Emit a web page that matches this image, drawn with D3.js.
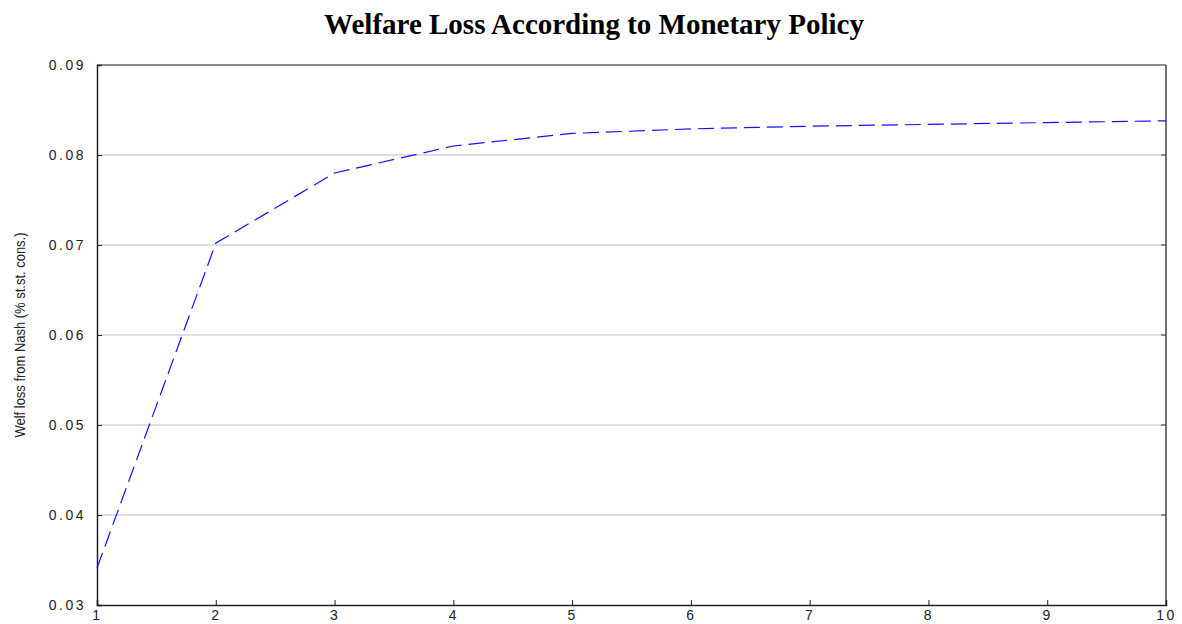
<!DOCTYPE html>
<html>
<head>
<meta charset="utf-8">
<script src="https://cdn.jsdelivr.net/npm/d3@7"></script>
<style>
  body { margin: 0; background: #fff; }
  svg { display: block; }
</style>
</head>
<body>
<div id="chart"></div>
<script>
// values
const policyIndex = [1, 2, 3, 4, 5, 6, 7, 8, 9, 10]
const welfareLoss = [0.0341, 0.0702, 0.0780, 0.0810, 0.0824, 0.0829, 0.0832, 0.0834, 0.0836, 0.0838]
const yTicks = [0.03, 0.04, 0.05, 0.06, 0.07, 0.08, 0.09]
const xTicks = [1, 2, 3, 4, 5, 6, 7, 8, 9, 10]

const width = 1182, height = 624
const margin = {top: 65, right: 16, bottom: 19, left: 97}
const w = width - margin.left - margin.right
const h = height - margin.top - margin.bottom

let svg = d3.select("#chart").append("svg")
  .attr("width", width)
  .attr("height", height)

let g = svg.append("g")
  .attr("transform", "translate(" + margin.left + "," + margin.top + ")")

let x = d3.scaleLinear().domain([1, 10]).range([0, w])
let y = d3.scaleLinear().domain([0.03, 0.09]).range([h, 0])

// horizontal grid
g.append("g").selectAll("line")
  .data(yTicks.filter(d => d > 0.03 && d < 0.09))
  .enter().append("line")
  .attr("x1", 0).attr("x2", w)
  .attr("y1", d => y(d)).attr("y2", d => y(d))
  .attr("stroke", "#d4d4d4")
  .attr("stroke-width", 1.5)

// box: top and right gray
g.append("line").attr("x1", 0).attr("x2", w).attr("y1", 0).attr("y2", 0)
  .attr("stroke", "#666").attr("stroke-width", 1.5)
g.append("line").attr("x1", w).attr("x2", w).attr("y1", 0).attr("y2", h)
  .attr("stroke", "#444").attr("stroke-width", 1.5)

// right inner ticks
g.append("g").selectAll("line")
  .data(yTicks.filter(d => d > 0.03 && d < 0.09))
  .enter().append("line")
  .attr("x1", w - 5).attr("x2", w)
  .attr("y1", d => y(d)).attr("y2", d => y(d))
  .attr("stroke", "#333")

const tickFont = "'Liberation Sans', Arial, sans-serif"

// y axis
let yAxis = g.append("g")
  .call(d3.axisLeft(y).tickValues(yTicks).tickSize(-5).tickPadding(11).tickFormat(d3.format(".2f")))
yAxis.select(".domain").attr("stroke", "#222").attr("stroke-width", 1.5)
yAxis.selectAll(".tick line").attr("stroke", "#222")
yAxis.selectAll("text")
  .attr("font-family", tickFont)
  .attr("font-size", 14)
  .attr("letter-spacing", 2.5)
  .attr("fill", "#222")

// x axis
let xAxis = g.append("g")
  .attr("transform", "translate(0," + h + ")")
  .call(d3.axisBottom(x).tickValues(xTicks).tickSize(-5).tickPadding(5).tickFormat(d3.format("d")))
xAxis.select(".domain").attr("stroke", "#222").attr("stroke-width", 1.5)
xAxis.selectAll(".tick line").attr("stroke", "#222")
xAxis.selectAll("text")
  .attr("font-family", tickFont)
  .attr("font-size", 14)
  .attr("letter-spacing", 2.5)
  .attr("fill", "#222")

// the line
let line = d3.line()
  .x((d, i) => x(policyIndex[i]))
  .y(d => y(d))

g.append("path")
  .datum(welfareLoss)
  .attr("d", line)
  .attr("fill", "none")
  .attr("stroke", "#1010ff")
  .attr("stroke-width", 1.2)
  .attr("stroke-dasharray", "16,7")

// title
svg.append("text")
  .attr("x", 594)
  .attr("y", 34)
  .attr("text-anchor", "middle")
  .attr("font-family", "'Liberation Serif', 'Times New Roman', serif")
  .attr("font-weight", "bold")
  .attr("font-size", 29)
  .text("Welfare Loss According to Monetary Policy")

// y label
svg.append("text")
  .attr("transform", "translate(25," + (margin.top + h / 2) + ") rotate(-90)")
  .attr("text-anchor", "middle")
  .attr("font-family", tickFont)
  .attr("font-size", 14)
  .attr("textLength", 205)
  .attr("lengthAdjust", "spacingAndGlyphs")
  .attr("fill", "#222")
  .text("Welf loss from Nash (% st.st. cons.)")
</script>
</body>
</html>
